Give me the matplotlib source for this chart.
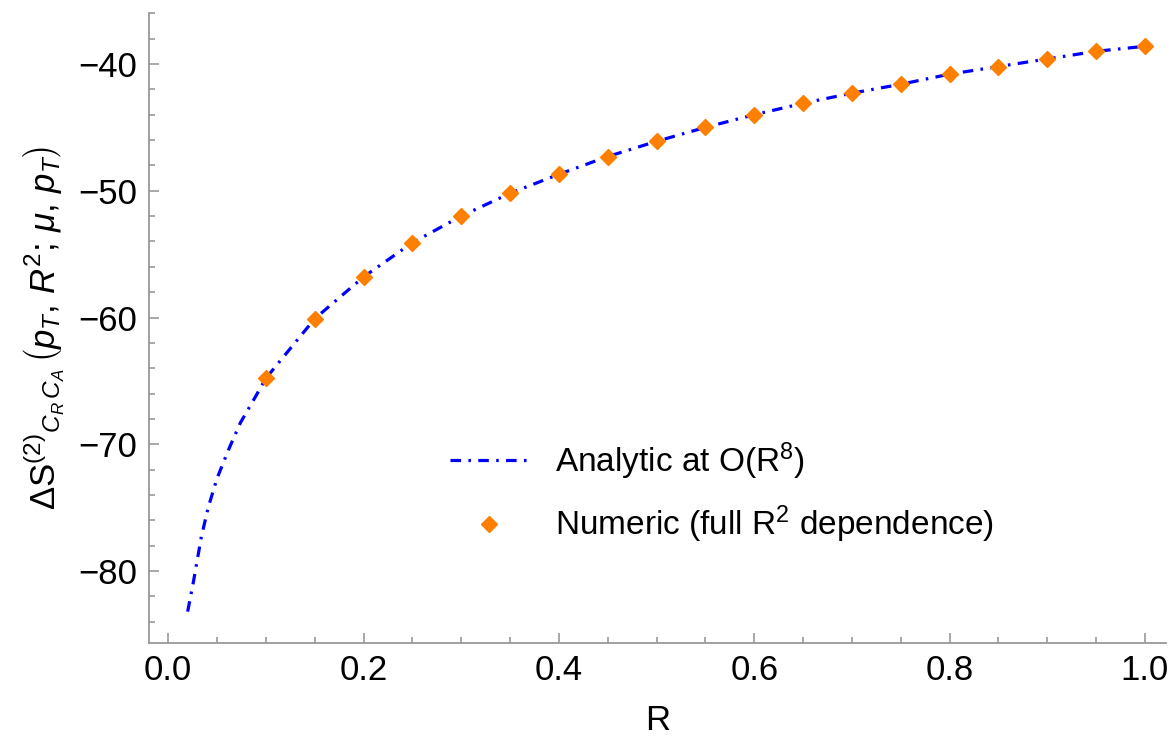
import matplotlib
matplotlib.use("Agg")
import matplotlib.pyplot as plt
from matplotlib.ticker import MultipleLocator, FormatStrFormatter

plt.rcParams['font.family'] = ['Liberation Sans', 'DejaVu Sans']
plt.rcParams['mathtext.fontset'] = 'custom'
plt.rcParams['mathtext.rm'] = 'Liberation Sans'
plt.rcParams['mathtext.it'] = 'Liberation Sans:italic'
plt.rcParams['mathtext.bf'] = 'Liberation Sans:bold'

# analytic curve
R_line = [0.02, 0.026, 0.034, 0.041, 0.05, 0.062, 0.074, 0.089, 0.1, 0.15, 0.2, 0.25,
          0.3, 0.35, 0.4, 0.45, 0.5, 0.55, 0.6, 0.65, 0.7, 0.75, 0.8, 0.85, 0.9, 0.95, 1.0]
S_line = [-83.2, -80.8, -77.3, -75.0, -72.7, -70.4, -68.3, -66.3, -64.8, -60.1, -56.8, -54.1,
          -52.0, -50.2, -48.7, -47.3, -46.1, -45.0, -44.0, -43.1, -42.3, -41.6, -40.8, -40.2,
          -39.6, -39.0, -38.6]

# numeric points
R_num = [0.1, 0.15, 0.2, 0.25, 0.3, 0.35, 0.4, 0.45, 0.5, 0.55, 0.6, 0.65, 0.7, 0.75,
         0.8, 0.85, 0.9, 0.95, 1.0]
S_num = [-64.76, -60.1, -56.8, -54.1, -52.0, -50.2, -48.7, -47.3, -46.1, -45.0, -44.0,
         -43.1, -42.3, -41.6, -40.8, -40.2, -39.6, -39.0, -38.6]

fig = plt.figure(figsize=(11.7, 7.39), dpi=100)
ax = fig.add_axes([0.127, 0.1295, 0.870, 0.8525])

ax.plot(R_line, S_line, color='#0000ff', lw=2.3, dashes=(3.3, 2.3, 0.8, 2.3),
        label=r'Analytic at O(R$^{8}$)', zorder=2)
ax.plot(R_num, S_num, ls='none', marker='D', ms=8.5, color='#ff8000', mec='#ff8000',
        label=r'Numeric (full R$^{2}$ dependence)', zorder=3)

ax.set_xlim(-0.02, 1.022)
ax.set_ylim(-85.7, -36.0)

ax.xaxis.set_major_locator(MultipleLocator(0.2))
ax.xaxis.set_minor_locator(MultipleLocator(0.05))
ax.yaxis.set_major_locator(MultipleLocator(10))
ax.yaxis.set_minor_locator(MultipleLocator(2))
ax.xaxis.set_major_formatter(FormatStrFormatter('%.1f'))

for s in ['top', 'right']:
    ax.spines[s].set_visible(False)
for s in ['left', 'bottom']:
    ax.spines[s].set_color('#999999')
    ax.spines[s].set_linewidth(1.3)

ax.tick_params(which='both', direction='in', color='#999999', width=1.2)
ax.tick_params(which='major', length=7, labelsize=25, pad=8)
ax.tick_params(which='minor', length=4)

ax.set_xlabel('R', fontsize=25, labelpad=12)
ax.set_ylabel(r'$\Delta\mathrm{S}^{(2)}{}_{C_R\,C_A}\,\left(p_T,\,R^2;\,\mu,\,p_T\right)$',
              fontsize=25, labelpad=8)

ax.legend(loc='upper left', bbox_to_anchor=(0.267, 0.37), frameon=False, fontsize=24,
          handlelength=2.34, handletextpad=0.8, labelspacing=0.66, numpoints=1)

fig.savefig('out.png', dpi=100)
